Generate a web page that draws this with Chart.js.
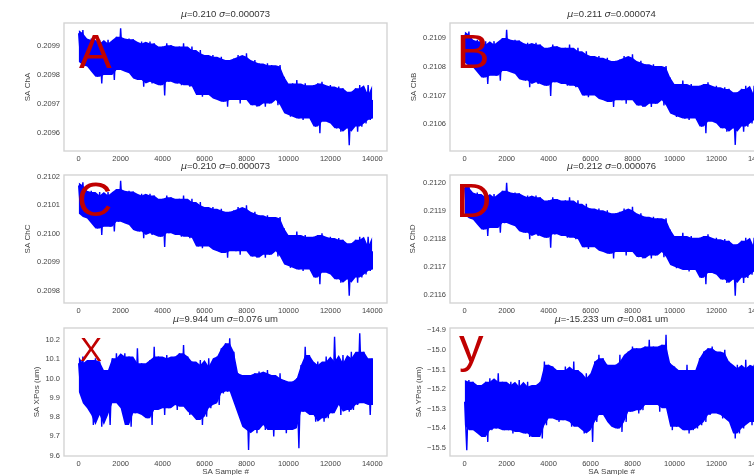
<!DOCTYPE html>
<html>
<head>
<meta charset="utf-8">
<script src="https://cdn.jsdelivr.net/npm/chart.js@4.4.1/dist/chart.umd.min.js"></script>
<style>
  body { margin: 0; width: 754px; height: 475px; overflow: hidden; background: #fff; position: relative; }
  canvas { position: absolute; }
</style>
</head>
<body>
<canvas id="chA" width="400" height="170" style="left:0px;top:0px"></canvas>
<canvas id="chB" width="400" height="170" style="left:386px;top:0px"></canvas>
<canvas id="chC" width="400" height="170" style="left:0px;top:152px"></canvas>
<canvas id="chD" width="400" height="170" style="left:386px;top:152px"></canvas>
<canvas id="chX" width="400" height="181" style="left:0px;top:305px"></canvas>
<canvas id="chY" width="400" height="181" style="left:386px;top:305px"></canvas>
<script>
// Sample axis ticks (SA Sample #)
const xTicks = [0, 2000, 4000, 6000, 8000, 10000, 12000, 14000];

// Envelope of each trace, read every 200 samples: upper and lower excursion
const chaHigh = [0.209943, 0.209954, 0.209920, 0.209925, 0.209908, 0.209920, 0.209902, 0.209920, 0.209908, 0.209931,
  0.209960, 0.209920, 0.209925, 0.209922, 0.209908, 0.209914, 0.209902, 0.209914, 0.209908, 0.209891,
  0.209897, 0.209908, 0.209902, 0.209891, 0.209897, 0.209908, 0.209885, 0.209897, 0.209874, 0.209885,
  0.209868, 0.209862, 0.209868, 0.209856, 0.209862, 0.209839, 0.209851, 0.209856, 0.209868, 0.209862,
  0.209874, 0.209845, 0.209851, 0.209839, 0.209833, 0.209839, 0.209833, 0.209828, 0.209833, 0.209793,
  0.209764, 0.209770, 0.209782, 0.209764, 0.209770, 0.209759, 0.209764, 0.209770, 0.209776, 0.209759,
  0.209764, 0.209747, 0.209759, 0.209753, 0.209724, 0.209741, 0.209753, 0.209764, 0.209730, 0.209764,
  0.209713];
const chaLow = [0.209845, 0.209833, 0.209828, 0.209810, 0.209793, 0.209770, 0.209810, 0.209799, 0.209782, 0.209816,
  0.209833, 0.209810, 0.209805, 0.209787, 0.209782, 0.209759, 0.209787, 0.209770, 0.209776, 0.209764,
  0.209728, 0.209776, 0.209787, 0.209770, 0.209764, 0.209782, 0.209759, 0.209764, 0.209730, 0.209724,
  0.209747, 0.209730, 0.209718, 0.209713, 0.209707, 0.209690, 0.209718, 0.209713, 0.209701, 0.209718,
  0.209713, 0.209695, 0.209690, 0.209707, 0.209690, 0.209701, 0.209713, 0.209695, 0.209713, 0.209667,
  0.209655, 0.209661, 0.209649, 0.209644, 0.209655, 0.209649, 0.209621, 0.209598, 0.209644, 0.209638,
  0.209632, 0.209615, 0.209603, 0.209615, 0.209557, 0.209621, 0.209603, 0.209621, 0.209632, 0.209644,
  0.209649];

const chbHigh = [0.210913, 0.210924, 0.210890, 0.210895, 0.210878, 0.210890, 0.210872, 0.210890, 0.210878, 0.210901,
  0.210930, 0.210890, 0.210895, 0.210892, 0.210878, 0.210884, 0.210872, 0.210884, 0.210878, 0.210861,
  0.210867, 0.210878, 0.210872, 0.210861, 0.210867, 0.210878, 0.210855, 0.210867, 0.210844, 0.210855,
  0.210838, 0.210832, 0.210838, 0.210826, 0.210832, 0.210809, 0.210821, 0.210826, 0.210838, 0.210832,
  0.210844, 0.210815, 0.210821, 0.210809, 0.210803, 0.210809, 0.210803, 0.210798, 0.210803, 0.210763,
  0.210734, 0.210740, 0.210752, 0.210734, 0.210740, 0.210729, 0.210734, 0.210740, 0.210746, 0.210729,
  0.210734, 0.210717, 0.210729, 0.210723, 0.210694, 0.210711, 0.210723, 0.210734, 0.210700, 0.210734,
  0.210683];
const chbLow = [0.210815, 0.210803, 0.210798, 0.210780, 0.210763, 0.210740, 0.210780, 0.210769, 0.210752, 0.210786,
  0.210803, 0.210780, 0.210775, 0.210757, 0.210752, 0.210729, 0.210757, 0.210740, 0.210746, 0.210734,
  0.210698, 0.210746, 0.210757, 0.210740, 0.210734, 0.210752, 0.210729, 0.210734, 0.210700, 0.210694,
  0.210717, 0.210700, 0.210688, 0.210683, 0.210677, 0.210660, 0.210688, 0.210683, 0.210671, 0.210688,
  0.210683, 0.210665, 0.210660, 0.210677, 0.210660, 0.210671, 0.210683, 0.210665, 0.210683, 0.210637,
  0.210625, 0.210631, 0.210619, 0.210614, 0.210625, 0.210619, 0.210591, 0.210568, 0.210614, 0.210608,
  0.210602, 0.210585, 0.210573, 0.210585, 0.210527, 0.210591, 0.210573, 0.210591, 0.210602, 0.210614,
  0.210619];

const chcHigh = [0.210169, 0.210180, 0.210146, 0.210151, 0.210134, 0.210146, 0.210128, 0.210146, 0.210134, 0.210157,
  0.210186, 0.210146, 0.210151, 0.210148, 0.210134, 0.210140, 0.210128, 0.210140, 0.210134, 0.210117,
  0.210123, 0.210134, 0.210128, 0.210117, 0.210123, 0.210134, 0.210111, 0.210123, 0.210100, 0.210111,
  0.210094, 0.210088, 0.210094, 0.210082, 0.210088, 0.210065, 0.210077, 0.210082, 0.210094, 0.210088,
  0.210100, 0.210071, 0.210077, 0.210065, 0.210059, 0.210065, 0.210059, 0.210054, 0.210059, 0.210019,
  0.209990, 0.209996, 0.210008, 0.209990, 0.209996, 0.209985, 0.209990, 0.209996, 0.210002, 0.209985,
  0.209990, 0.209973, 0.209985, 0.209979, 0.209950, 0.209967, 0.209979, 0.209990, 0.209956, 0.209990,
  0.209939];
const chcLow = [0.210071, 0.210059, 0.210054, 0.210036, 0.210019, 0.209996, 0.210036, 0.210025, 0.210008, 0.210042,
  0.210059, 0.210036, 0.210031, 0.210013, 0.210008, 0.209985, 0.210013, 0.209996, 0.210002, 0.209990,
  0.209954, 0.210002, 0.210013, 0.209996, 0.209990, 0.210008, 0.209985, 0.209990, 0.209956, 0.209950,
  0.209973, 0.209956, 0.209944, 0.209939, 0.209933, 0.209916, 0.209944, 0.209939, 0.209927, 0.209944,
  0.209939, 0.209921, 0.209916, 0.209933, 0.209916, 0.209927, 0.209939, 0.209921, 0.209939, 0.209893,
  0.209881, 0.209887, 0.209875, 0.209870, 0.209881, 0.209875, 0.209847, 0.209824, 0.209870, 0.209864,
  0.209858, 0.209841, 0.209829, 0.209841, 0.209783, 0.209847, 0.209829, 0.209847, 0.209858, 0.209870,
  0.209875];

const chdHigh = [0.211983, 0.211994, 0.211960, 0.211965, 0.211948, 0.211960, 0.211942, 0.211960, 0.211948, 0.211971,
  0.212000, 0.211960, 0.211965, 0.211962, 0.211948, 0.211954, 0.211942, 0.211954, 0.211948, 0.211931,
  0.211937, 0.211948, 0.211942, 0.211931, 0.211937, 0.211948, 0.211925, 0.211937, 0.211914, 0.211925,
  0.211908, 0.211902, 0.211908, 0.211896, 0.211902, 0.211879, 0.211891, 0.211896, 0.211908, 0.211902,
  0.211914, 0.211885, 0.211891, 0.211879, 0.211873, 0.211879, 0.211873, 0.211868, 0.211873, 0.211833,
  0.211804, 0.211810, 0.211822, 0.211804, 0.211810, 0.211799, 0.211804, 0.211810, 0.211816, 0.211799,
  0.211804, 0.211787, 0.211799, 0.211793, 0.211764, 0.211781, 0.211793, 0.211804, 0.211770, 0.211804,
  0.211753];
const chdLow = [0.211885, 0.211873, 0.211868, 0.211850, 0.211833, 0.211810, 0.211850, 0.211839, 0.211822, 0.211856,
  0.211873, 0.211850, 0.211845, 0.211827, 0.211822, 0.211799, 0.211827, 0.211810, 0.211816, 0.211804,
  0.211768, 0.211816, 0.211827, 0.211810, 0.211804, 0.211822, 0.211799, 0.211804, 0.211770, 0.211764,
  0.211787, 0.211770, 0.211758, 0.211753, 0.211747, 0.211730, 0.211758, 0.211753, 0.211741, 0.211758,
  0.211753, 0.211735, 0.211730, 0.211747, 0.211730, 0.211741, 0.211753, 0.211735, 0.211753, 0.211707,
  0.211695, 0.211701, 0.211689, 0.211684, 0.211695, 0.211689, 0.211661, 0.211638, 0.211684, 0.211678,
  0.211672, 0.211655, 0.211643, 0.211655, 0.211597, 0.211661, 0.211643, 0.211661, 0.211672, 0.211684,
  0.211689];

const xposHigh = [10.079, 10.114, 10.070, 10.096, 10.105, 10.088, 10.044, 10.010, 10.105, 10.131,
  10.096, 10.131, 10.114, 10.070, 10.157, 10.079, 10.070, 10.096, 10.165, 10.114,
  10.105, 10.122, 10.088, 10.114, 10.131, 10.174, 10.114, 10.088, 10.070, 10.096,
  10.044, 10.105, 10.062, 10.114, 10.157, 10.183, 10.209, 10.139, 10.027, 9.992,
  10.018, 10.018, 10.027, 10.036, 10.027, 10.044, 10.018, 10.001, 10.027, 9.992,
  9.967, 9.984, 10.001, 10.070, 10.165, 10.122, 10.053, 10.088, 10.070, 10.114,
  10.088, 10.217, 10.079, 10.122, 10.079, 10.139, 10.105, 10.235, 10.139, 10.088,
  10.105];
const xposLow = [9.932, 9.871, 9.846, 9.759, 9.811, 9.750, 9.811, 9.759, 9.897, 9.871,
  9.846, 9.759, 9.750, 9.820, 9.854, 9.811, 9.794, 9.759, 9.837, 9.871,
  9.811, 9.846, 9.863, 9.837, 9.880, 9.854, 9.811, 9.828, 9.785, 9.759,
  9.802, 9.846, 9.871, 9.863, 9.923, 9.932, 9.958, 9.871, 9.811, 9.750,
  9.629, 9.733, 9.716, 9.759, 9.733, 9.785, 9.699, 9.733, 9.759, 9.716,
  9.733, 9.742, 9.638, 9.828, 9.863, 9.811, 9.776, 9.811, 9.776, 9.794,
  9.820, 9.889, 9.811, 9.863, 9.828, 9.837, 9.863, 9.906, 9.871, 9.811,
  9.863];

const yposHigh = [-15.264, -15.153, -15.162, -15.179, -15.187, -15.162, -15.144, -15.170, -15.119, -15.162,
  -15.179, -15.162, -15.187, -15.153, -15.187, -15.162, -15.213, -15.179, -15.162, -15.059,
  -15.076, -15.085, -15.110, -15.102, -15.085, -15.119, -15.059, -15.102, -15.144, -15.119,
  -15.144, -15.059, -15.025, -15.042, -15.076, -15.102, -15.076, -15.025, -15.059, -15.008,
  -14.982, -14.991, -15.008, -14.982, -14.948, -14.982, -15.016, -14.974, -14.922, -15.068,
  -15.085, -15.102, -15.119, -15.076, -15.102, -15.110, -15.042, -15.008, -14.991, -14.982,
  -15.008, -15.016, -14.999, -15.059, -15.093, -15.076, -15.102, -15.050, -15.093, -15.076,
  -15.085];
const yposLow = [-15.512, -15.384, -15.409, -15.426, -15.444, -15.469, -15.409, -15.401, -15.401, -15.409,
  -15.409, -15.426, -15.401, -15.418, -15.426, -15.444, -15.426, -15.444, -15.452, -15.384,
  -15.332, -15.350, -15.367, -15.358, -15.341, -15.392, -15.367, -15.392, -15.426, -15.409,
  -15.469, -15.367, -15.332, -15.315, -15.367, -15.392, -15.401, -15.418, -15.367, -15.315,
  -15.281, -15.324, -15.307, -15.281, -15.264, -15.281, -15.315, -15.273, -15.298, -15.409,
  -15.392, -15.384, -15.409, -15.426, -15.409, -15.401, -15.384, -15.367, -15.332, -15.315,
  -15.324, -15.350, -15.332, -15.367, -15.452, -15.426, -15.401, -15.358, -15.384, -15.367,
  -15.367];

// Y tick values per panel
const chaTicks = [0.2096, 0.2097, 0.2098, 0.2099];
const chbTicks = [0.2106, 0.2107, 0.2108, 0.2109];
const chcTicks = [0.2098, 0.2099, 0.2100, 0.2101, 0.2102];
const chdTicks = [0.2116, 0.2117, 0.2118, 0.2119, 0.2120];
const xposTicks = [9.6, 9.7, 9.8, 9.9, 10.0, 10.1, 10.2];
const yposTicks = [-15.5, -15.4, -15.3, -15.2, -15.1, -15.0, -14.9];

const SAMPLE_STEP = 200;
const LAST_SAMPLE = 13999;
const FONT = '"Liberation Sans", Arial, sans-serif';
const TEXT_COLOR = '#444';
const TRACE_BLUE = '#0000ff';

function binX(i, offset) {
    return Math.min(i * SAMPLE_STEP + offset, LAST_SAMPLE);
}

// Solid core of the band: median of each bin and its two neighbours
function coreEdge(values) {
    return values.map(function(v, i) {
        const near = values.slice(Math.max(0, i - 1), i + 2).sort((a, b) => a - b);
        return { x: binX(i, 0), y: near[Math.floor(near.length / 2)] };
    });
}

// Trace swinging between the upper and lower excursion of each bin
function buildTrace(high, low) {
    const pts = [];
    for (let i = 0; i < high.length; i++) {
        pts.push({ x: binX(i, 0), y: high[i] });
        pts.push({ x: binX(i, SAMPLE_STEP / 2), y: low[i] });
    }
    return pts;
}

// Frame, title with italic mu / sigma, and the big red panel letter
const panelDecor = {
    id: 'panelDecor',
    afterDatasetsDraw(chart, args, opts) {
        const ctx = chart.ctx;
        const a = chart.chartArea;
        ctx.save();

        // frame
        ctx.strokeStyle = '#d4d4d4';
        ctx.lineWidth = 1.4;
        ctx.strokeRect(a.left, a.top, a.right - a.left, a.bottom - a.top);

        // title
        const size = 9.5;
        const parts = [];
        let buf = '';
        for (const ch of opts.title) {
            if (ch === 'μ' || ch === 'σ') {
                if (buf) parts.push({ t: buf, it: false });
                parts.push({ t: ch, it: true });
                buf = '';
            } else {
                buf += ch;
            }
        }
        if (buf) parts.push({ t: buf, it: false });
        const fontFor = p => (p.it ? 'italic ' : '') + size + 'px ' + (p.it ? '"DejaVu Sans", ' : '') + FONT;
        let total = 0;
        parts.forEach(p => {
            ctx.font = fontFor(p);
            p.w = ctx.measureText(p.t).width;
            total += p.w;
        });
        let x = (a.left + a.right) / 2 - total / 2;
        ctx.fillStyle = '#333';
        ctx.textBaseline = 'middle';
        ctx.textAlign = 'left';
        parts.forEach(p => {
            ctx.font = fontFor(p);
            ctx.fillText(p.t, x, a.top - 8.5);
            x += p.w;
        });

        // big letter
        ctx.font = opts.letterSize + 'px ' + FONT;
        ctx.fillStyle = '#c00000';
        ctx.textBaseline = 'alphabetic';
        const m = ctx.measureText(opts.letter);
        ctx.fillText(opts.letter, a.left + opts.letterDx + m.actualBoundingBoxLeft, a.top + opts.letterDy);
        ctx.restore();
    }
};

function makePanel(id, cfg) {
    const bottomRow = !!cfg.xTitle;
    new Chart(document.getElementById(id), {
        type: 'line',
        data: {
            datasets: [{
                data: coreEdge(cfg.high),
                borderWidth: 0,
                pointRadius: 0,
                tension: 0,
                fill: false
            }, {
                data: coreEdge(cfg.low),
                backgroundColor: TRACE_BLUE,
                borderWidth: 0,
                pointRadius: 0,
                tension: 0,
                fill: '-1'
            }, {
                data: buildTrace(cfg.high, cfg.low),
                borderColor: TRACE_BLUE,
                borderWidth: 1.4,
                pointRadius: 0,
                tension: 0,
                fill: false
            }]
        },
        options: {
            responsive: false,
            animation: false,
            devicePixelRatio: 1,
            layout: { padding: { top: 23, right: 13, left: 0, bottom: 0 } },
            plugins: {
                legend: { display: false },
                tooltip: { enabled: false },
                panelDecor: cfg.decor
            },
            scales: {
                x: {
                    type: 'linear',
                    min: -700,
                    max: 14700,
                    grid: { display: false, drawTicks: false, tickLength: 0 },
                    border: { display: false },
                    afterBuildTicks: function(scale) {
                        scale.ticks = xTicks.map(v => ({ value: v }));
                    },
                    afterFit: function(scale) {
                        scale.height = bottomRow ? 30 : 19;
                    },
                    ticks: {
                        padding: 3,
                        color: TEXT_COLOR,
                        autoSkip: false,
                        maxRotation: 0,
                        font: { family: FONT, size: 7.5 },
                        callback: function(value) { return String(value); }
                    },
                    title: {
                        display: bottomRow,
                        text: cfg.xTitle || '',
                        color: TEXT_COLOR,
                        font: { family: FONT, size: 8 },
                        padding: { top: 0, bottom: 9.5 }
                    }
                },
                y: {
                    type: 'linear',
                    min: cfg.yMin,
                    max: cfg.yMax,
                    grid: { display: false, drawTicks: false, tickLength: 0 },
                    border: { display: false },
                    afterBuildTicks: function(scale) {
                        scale.ticks = cfg.yTicks.map(v => ({ value: v }));
                    },
                    afterFit: function(scale) {
                        scale.width = 64;
                    },
                    ticks: {
                        padding: 4,
                        color: TEXT_COLOR,
                        font: { family: FONT, size: 7.5 },
                        callback: function(value) {
                            return value.toFixed(cfg.digits).replace('-', '\u2212');
                        }
                    },
                    title: {
                        display: true,
                        text: cfg.yTitle,
                        color: TEXT_COLOR,
                        font: { family: FONT, size: 8 },
                        padding: { top: cfg.yTitleX - 4.8, bottom: 0 }
                    }
                }
            }
        },
        plugins: [panelDecor]
    });
}

makePanel('chA', {
    high: chaHigh, low: chaLow, yTicks: chaTicks, yMin: 0.2095369, yMax: 0.2099783, digits: 4,
    yTitle: 'SA ChA', yTitleX: 28,
    decor: { title: 'μ=0.210 σ=0.000073', letter: 'A', letterSize: 49, letterDx: 15, letterDy: 45.3 }
});
makePanel('chB', {
    high: chbHigh, low: chbLow, yTicks: chbTicks, yMin: 0.2105056, yMax: 0.2109536, digits: 4,
    yTitle: 'SA ChB', yTitleX: 28,
    decor: { title: 'μ=0.211 σ=0.000074', letter: 'B', letterSize: 49, letterDx: 10.7, letterDy: 45 }
});
makePanel('chC', {
    high: chcHigh, low: chcLow, yTicks: chcTicks, yMin: 0.2097579, yMax: 0.2102059, digits: 4,
    yTitle: 'SA ChC', yTitleX: 28,
    decor: { title: 'μ=0.210 σ=0.000073', letter: 'C', letterSize: 49, letterDx: 15, letterDy: 41 }
});
makePanel('chD', {
    high: chdHigh, low: chdLow, yTicks: chdTicks, yMin: 0.2115715, yMax: 0.2120274, digits: 4,
    yTitle: 'SA ChD', yTitleX: 27,
    decor: { title: 'μ=0.212 σ=0.000076', letter: 'D', letterSize: 49, letterDx: 10, letterDy: 41.7 }
});
makePanel('chX', {
    high: xposHigh, low: xposLow, yTicks: xposTicks, yMin: 9.598, yMax: 10.262, digits: 1,
    yTitle: 'SA XPos (um)', yTitleX: 37, xTitle: 'SA Sample #',
    decor: { title: 'μ=9.944 um σ=0.076 um', letter: 'X', letterSize: 33, letterDx: 16, letterDy: 33.4 }
});
makePanel('chY', {
    high: yposHigh, low: yposLow, yTicks: yposTicks, yMin: -15.541, yMax: -14.888, digits: 1,
    yTitle: 'SA YPos (um)', yTitleX: 33, xTitle: 'SA Sample #',
    decor: { title: 'μ=-15.233 um σ=0.081 um', letter: 'y', letterSize: 49, letterDx: 9, letterDy: 33.7 }
});
</script>
</body>
</html>
